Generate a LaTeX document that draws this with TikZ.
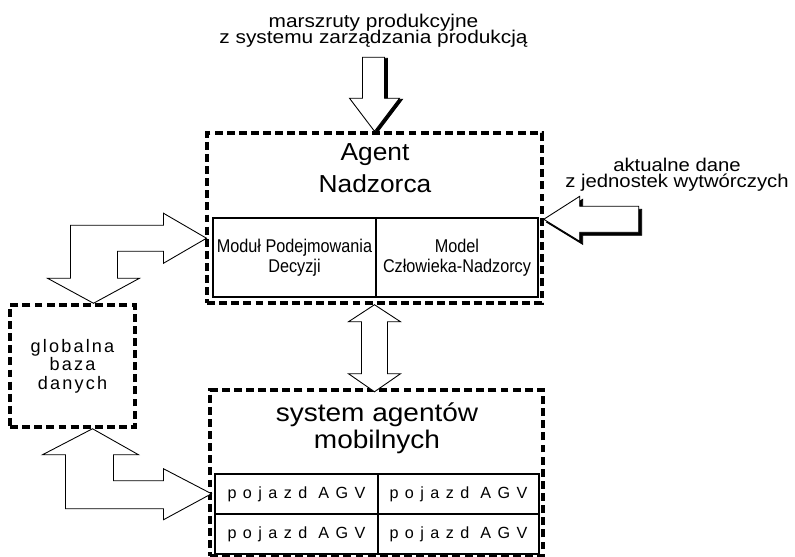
\documentclass[tikz,border=0pt]{standalone}
\usepackage{fontspec}
\setmainfont{Liberation Sans}
\usetikzlibrary{calc}

\newcommand\tightlines{\lineskiplimit=-10pt\relax}

\tikzset{
  dashbox/.style={draw, line width=2pt, dash pattern=on 4.5pt off 2.4pt, inner sep=0pt},
  cell/.style={draw, line width=0.8pt, inner sep=0pt, align=center},
  blockarrow/.style={draw, fill=white, line width=0.5pt},
  blockshadow/.style={draw, fill=black, line width=0.5pt},
  bigtxt/.style={anchor=base, align=center, inner sep=0pt},
  smalltxt/.style={anchor=base, align=center, inner sep=0pt},
}

\begin{document}
\begin{tikzpicture}[x=0.02cm, y=-0.02cm]
  \useasboundingbox (0,0) rectangle (795,557);

  % Agent Nadzorca
  \node[dashbox, minimum width=6.7cm, minimum height=3.4cm] (agent) at (374.5,218) {};
  \node[bigtxt, font=\fontsize{14}{18.1}\selectfont\addfontfeature{FakeStretch=1.07}] (agentlbl) at (375,192.7) {Agent\\Nadzorca};
  \tikzset{modtxt/.style={cell, minimum height=1.58cm, font=\fontsize{10.5}{11.3}\selectfont\addfontfeature{FakeStretch=0.88}}}
  \node[modtxt, minimum width=3.26cm] (modul) at (294.5,257.5) {Moduł Podejmowania\\Decyzji};
  \node[modtxt, minimum width=3.24cm] (model) at (457,257.5) {Model\\Człowieka-Nadzorcy};

  % system agentow mobilnych
  \node[dashbox, minimum width=6.66cm, minimum height=3.32cm] (system) at (376.5,473) {};
  \node[bigtxt, font=\fontsize{14.5}{14.9}\selectfont\addfontfeature{FakeStretch=1.1}] (systemlbl) at (377,448) {system agentów\\mobilnych};
  \tikzset{agv/.style={cell, minimum height=0.8cm, font=\fontsize{9.2}{11}\selectfont\addfontfeature{LetterSpace=40}}}
  \node[agv, minimum width=3.26cm] (agv1) at (296.5,494) {pojazd AGV};
  \node[agv, minimum width=3.22cm] (agv2) at (458.5,494) {pojazd AGV};
  \node[agv, minimum width=3.26cm] (agv3) at (296.5,534) {pojazd AGV};
  \node[agv, minimum width=3.22cm] (agv4) at (458.5,534) {pojazd AGV};

  % baza danych
  \node[dashbox, minimum width=2.5cm, minimum height=2.44cm, align=center,
        font=\fontsize{10.3}{10.5}\selectfont\addfontfeature{LetterSpace=12}] (baza) at (72.5,366) {globalna\\baza\\danych};

  % opisy wejsc
  \node[smalltxt, font=\fontsize{10.5}{9.2}\selectfont\tightlines\addfontfeature{FakeStretch=1.13}] (marszruty) at (373.5,43.5) {marszruty produkcyjne\\z systemu zarządzania produkcją};
  \node[smalltxt, font=\fontsize{10.5}{9}\selectfont\tightlines\addfontfeature{FakeStretch=1.1}] (dane) at (677,187.5) {aktualne dane\\z jednostek wytwórczych};

  % strzalki z cieniem
  \foreach \dx/\dy/\sty in {3/1/blockshadow, 0/0/blockarrow}
    \draw[\sty] ($(agent.north)+(\dx,\dy)$) -- ++(-25,-33) -- ++(13,0) -- ++(0,-41)
      -- ++(22,0) -- ++(0,41) -- ++(15,0) -- cycle;
  \foreach \dx/\dy/\sty in {3/3/blockshadow, 0/0/blockarrow}
    \draw[\sty] ($(agent.east |- modul.north)+(\dx,2+\dy)$) -- ++(36,-23) -- ++(0,10)
      -- ++(59,0) -- ++(0,26) -- ++(-59,0) -- ++(0,9) -- cycle;

  % strzalki dwukierunkowe
  \draw[blockarrow] (agent.south) -- ++(26,17) -- ++(-13,0) -- ++(0,52) -- ++(13,0)
    -- ++(-26,18) -- ++(-26,-18) -- ++(13,0) -- ++(0,-52) -- ++(-13,0) -- cycle;
  \draw[blockarrow] ($(baza.north)+(21,0)$) -- ++(-46,-25) -- ++(23,0) -- ++(0,-53)
    -- ++(93,0) -- ++(0,-12) -- ++(43,25) -- ++(-43,25) -- ++(0,-12) -- ++(-46,0)
    -- ++(0,27) -- ++(22,0) -- cycle;
  \draw[blockarrow] ($(baza.south)+(20,0)$) -- ++(46,26) -- ++(-25,0) -- ++(0,26)
    -- ++(50,0) -- ++(0,-12) -- ++(48,25) -- ++(-48,26) -- ++(0,-11) -- ++(-98,0)
    -- ++(0,-54) -- ++(-23,0) -- cycle;
\end{tikzpicture}
\end{document}
